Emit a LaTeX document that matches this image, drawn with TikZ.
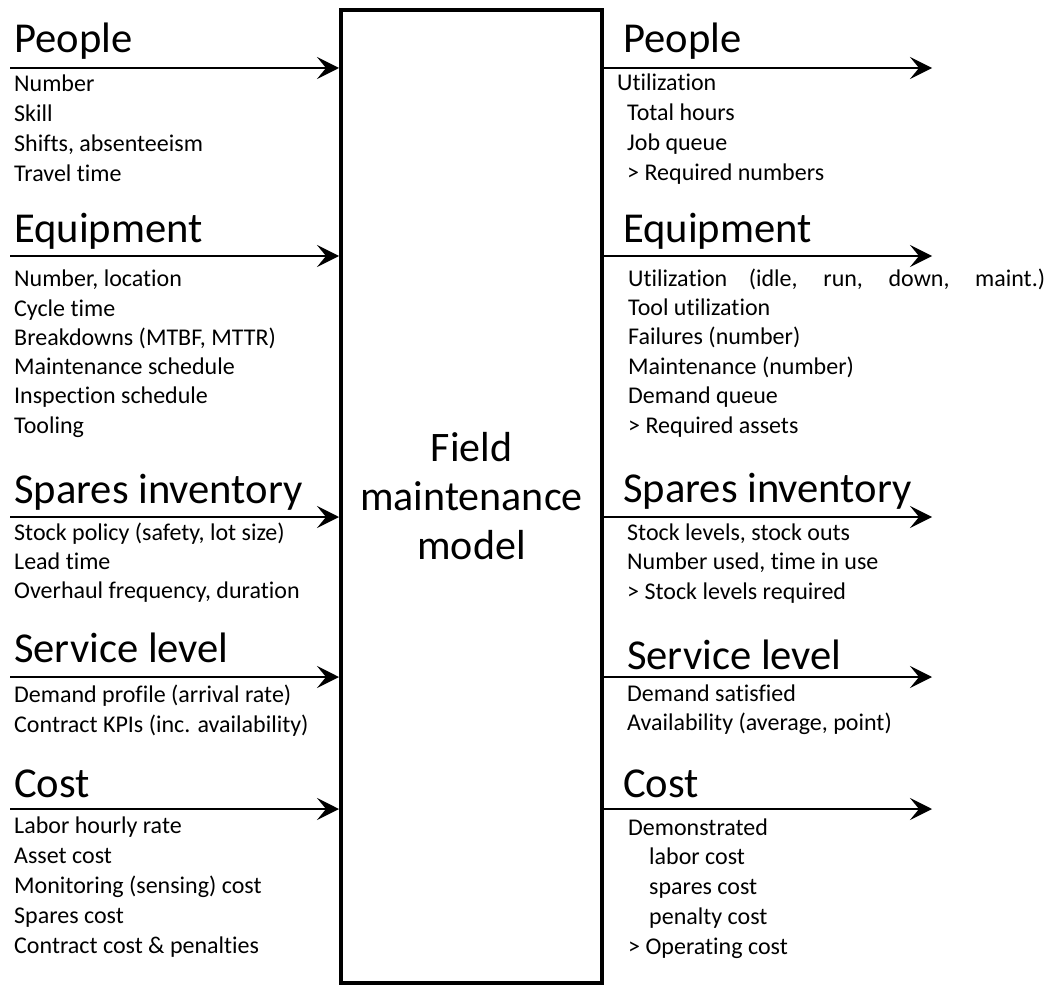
\documentclass[tikz,border=0pt]{standalone}
\usepackage{fontspec}
\setmainfont{Carlito}[Ligatures={NoCommon}]
\usetikzlibrary{arrows.meta, positioning}

\tikzset{
  heading/.style={anchor=base west, inner sep=0pt, font=\fontsize{42.6}{43}\selectfont},
  entry/.style={anchor=base west, inner sep=0pt, font=\fontsize{24}{24}\selectfont},
  flow/.style={line width=2pt, -{Stealth[length=22pt, width=22pt, inset=9pt]}},
  modelbox/.style={draw, line width=4pt, minimum width=261pt, minimum height=973pt,
    inner sep=0pt, align=center, font=\fontsize{42}{49}\selectfont}
}

\begin{document}
\begin{tikzpicture}[x=1pt, y=-1pt]
    \useasboundingbox (0,0) rectangle (1055,987);
    % the model in the middle
    \node[modelbox] (model) at (471.5,496.5) {Field\\maintenance\\model};

    % flows into and out of the model
    \foreach \y/\n in {68/people,256/equip,517/spares,677/service,809/cost} {
        \coordinate (\n-in) at (10,\y);
        \coordinate (\n-out) at (932,\y);
        \draw[flow] (\n-in) -- (\n-in -| model.west);
        \draw[flow] (\n-in -| model.east) -- (\n-out);
    }

    % inputs
    \node[heading] (people-h) at (14,53) {People};
    \node[heading] (equip-h) at (14,243) {Equipment};
    \node[heading] (spares-h) at (14,503) {Spares inventory};
    \node[heading] (service-h) at (14,662) {Service level};
    \node[heading] (cost-h) at (14,797) {Cost};
    \foreach \t [count=\i from 0] in {Number, Skill, {Shifts, absenteeism}, Travel time}
        \node[entry] (people-in-\i) at (14,92+29.7*\i) {\t};
    \foreach \t [count=\i from 0] in {{Number, location}, Cycle time, {Breakdowns (MTBF, MTTR)},
        Maintenance schedule, Inspection schedule, Tooling}
        \node[entry] (equip-in-\i) at (14,287+29.2*\i) {\t};
    \foreach \t [count=\i from 0] in {{Stock policy (safety, lot size)}, Lead time, {Overhaul frequency, duration}}
        \node[entry] (spares-in-\i) at (14,540+29.2*\i) {\t};
    \foreach \t [count=\i from 0] in {Demand profile (arrival rate), Contract KPIs (inc. availability)}
        \node[entry] (service-in-\i) at (14,702+30*\i) {\t};
    \foreach \t [count=\i from 0] in {Labor hourly rate, Asset cost, Monitoring (sensing) cost,
        Spares cost, Contract cost \& penalties}
        \node[entry] (cost-in-\i) at (14,833+30*\i) {\t};

    % outputs
    \node[heading] (people-o) at (623,53) {People};
    \node[heading] (equip-o) at (623,243) {Equipment};
    \node[heading] (spares-o) at (623,502) {Spares inventory};
    \node[heading] (service-o) at (627,669) {Service level};
    \node[heading] (cost-o) at (623,797) {Cost};
    \foreach \x/\t [count=\i from 0] in {617/Utilization, 627/Total hours, 627/Job queue, 627/> Required numbers}
        \node[entry] (people-out-\i) at (\x,91+29.7*\i) {\t};
    \node[entry] (equip-out-0) at (628,286) {\makebox[417pt][s]{Utilization (idle, run, down, maint.)}};
    \foreach \t [count=\i from 1] in {Tool utilization, Failures (number), Maintenance (number),
        Demand queue, > Required assets}
        \node[entry] (equip-out-\i) at (628,286+29.4*\i) {\t};
    \foreach \t [count=\i from 0] in {{Stock levels, stock outs}, {Number used, time in use}, > Stock levels required}
        \node[entry] (spares-out-\i) at (627,540+29.5*\i) {\t};
    \foreach \t [count=\i from 0] in {Demand satisfied, {Availability (average, point)}}
        \node[entry] (service-out-\i) at (627,701+29.5*\i) {\t};
    \foreach \x/\t [count=\i from 0] in {628/Demonstrated, 649/labor cost, 649/spares cost,
        649/penalty cost, 628/> Operating cost}
        \node[entry] (cost-out-\i) at (\x,835+29.8*\i) {\t};
\end{tikzpicture}
\end{document}
